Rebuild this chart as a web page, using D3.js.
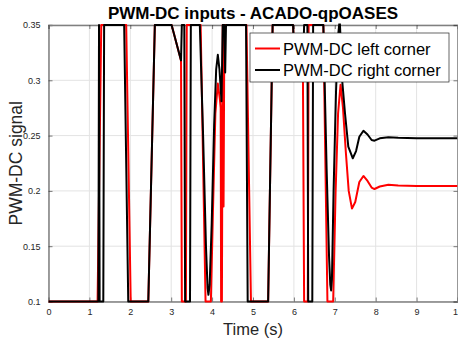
<!DOCTYPE html>
<html>
<head>
<meta charset="utf-8">
<script src="https://cdn.jsdelivr.net/npm/d3@7"></script>
<style>
  body { margin: 0; background: #fff; }
  svg { display: block; font-family: "Liberation Sans", Arial, Helvetica, sans-serif; }
</style>
</head>
<body>
<svg id="chart"></svg>
<script>
// data
const xTicks = [0, 1, 2, 3, 4, 5, 6, 7, 8, 9, 10];
const yTicks = [0.1, 0.15, 0.2, 0.25, 0.3, 0.35];
const seriesNames = ['PWM-DC left corner', 'PWM-DC right corner'];

const leftTime = [0, 1.20, 1.29, 1.90, 2.01, 2.44, 2.60, 3.01, 3.24, 3.26, 3.36, 3.38, 3.72, 3.84, 3.97,
  4.02, 4.08, 4.14, 4.19, 4.21, 4.22, 4.24, 4.26, 4.28, 4.30, 4.84, 4.95, 5.37, 5.48, 5.98, 6.00, 6.22,
  6.25, 6.34, 6.36, 6.72, 6.82, 6.96, 7.02, 7.08, 7.14, 7.20, 7.27, 7.34, 7.42, 7.50, 7.60, 7.70, 7.80,
  7.90, 7.97, 8.10, 8.31, 8.55, 9.00, 10];
const leftValues = [0.1, 0.1, 0.35, 0.35, 0.1, 0.1, 0.35, 0.35, 0.318, 0.1, 0.1, 0.35, 0.35, 0.1, 0.1,
  0.18, 0.27, 0.297, 0.283, 0.275, 0.1, 0.1, 0.35, 0.186, 0.35, 0.35, 0.1, 0.1, 0.35, 0.35, 0.33, 0.31,
  0.1, 0.1, 0.35, 0.35, 0.1, 0.1, 0.2, 0.27, 0.296, 0.275, 0.235, 0.2, 0.184, 0.19, 0.208, 0.2135, 0.209,
  0.203, 0.2017, 0.204, 0.2056, 0.2048, 0.2044, 0.2044];

const rightTime = [0, 1.22, 1.235, 1.25, 1.34, 1.36, 1.85, 1.95, 2.44, 2.60, 3.01, 3.24, 3.26, 3.32, 3.34,
  3.46, 3.48, 3.70, 3.78, 3.85, 3.89, 3.91, 3.94, 3.99, 4.05, 4.10, 4.14, 4.18, 4.23, 4.26, 4.30, 4.32,
  4.34, 4.83, 4.87, 5.37, 5.48, 5.98, 6.00, 6.22, 6.25, 6.33, 6.35, 6.45, 6.47, 6.72, 6.80, 6.86, 6.89,
  6.91, 6.93, 6.97, 7.03, 7.08, 7.12, 7.15, 7.18, 7.25, 7.33, 7.44, 7.52, 7.60, 7.70, 7.80, 7.90, 7.97,
  8.10, 8.31, 8.55, 9.00, 10];
const rightValues = [0.1, 0.1, 0.35, 0.1, 0.1, 0.35, 0.35, 0.1, 0.1, 0.35, 0.35, 0.318, 0.35, 0.35, 0.1,
  0.1, 0.35, 0.35, 0.25, 0.15, 0.112, 0.106, 0.115, 0.17, 0.26, 0.31, 0.323, 0.31, 0.281, 0.35, 0.35, 0.307,
  0.35, 0.35, 0.1, 0.1, 0.35, 0.35, 0.33, 0.31, 0.35, 0.35, 0.1, 0.1, 0.35, 0.35, 0.22, 0.14, 0.115,
  0.11, 0.12, 0.2, 0.29, 0.34, 0.355, 0.33, 0.30, 0.27, 0.24, 0.2295, 0.236, 0.249, 0.2544, 0.251, 0.246, 0.2454,
  0.2475, 0.2485, 0.248, 0.2476, 0.2476];

const width = 458;
const height = 340;
const plotLeft = 48.5, plotRight = 457.5, plotTop = 25, plotBottom = 301.5;
const axisColor = '#262626';

const x = d3.scaleLinear().domain([0, 10]).range([plotLeft, plotRight]);
const y = d3.scaleLinear().domain([0.1, 0.35]).range([plotBottom, plotTop]);

const svg = d3.select('#chart').attr('width', width).attr('height', height);

// grid
svg.append('g').selectAll('line').data(xTicks).enter().append('line')
  .attr('x1', d => x(d)).attr('x2', d => x(d)).attr('y1', plotTop).attr('y2', plotBottom)
  .attr('stroke', '#e3e3e3').attr('stroke-width', 1);
svg.append('g').selectAll('line').data(yTicks).enter().append('line')
  .attr('x1', plotLeft).attr('x2', plotRight).attr('y1', d => y(d)).attr('y2', d => y(d))
  .attr('stroke', '#e3e3e3').attr('stroke-width', 1);

// axes (ticks point inward)
const xAxis = d3.axisBottom(x).tickValues(xTicks).tickSize(-4).tickPadding(7).tickFormat(d3.format('d'));
const yAxis = d3.axisLeft(y).tickValues(yTicks).tickSize(-4).tickPadding(8).tickFormat(d => String(d));
const xAxisTop = d3.axisTop(x).tickValues(xTicks).tickSize(-4).tickFormat('');
const yAxisRight = d3.axisRight(y).tickValues(yTicks).tickSize(-4).tickFormat('');

function styleAxis(g) {
  g.select('.domain').attr('stroke', '#808080').attr('stroke-width', 1.5);
  g.selectAll('.tick line').attr('stroke', axisColor).attr('stroke-width', 0.6);
  g.selectAll('.tick text').attr('fill', axisColor).attr('font-size', 9);
}
svg.append('g').attr('transform', 'translate(0,' + plotBottom + ')').call(xAxis).call(styleAxis);
svg.append('g').attr('transform', 'translate(' + plotLeft + ',0)').call(yAxis).call(styleAxis);
svg.append('g').attr('transform', 'translate(0,' + plotTop + ')').call(xAxisTop).call(styleAxis);
svg.append('g').attr('transform', 'translate(' + plotRight + ',0)').call(yAxisRight).call(styleAxis);

// lines
svg.append('clipPath').attr('id', 'clip').append('rect')
  .attr('x', plotLeft).attr('y', plotTop - 1.5)
  .attr('width', plotRight - plotLeft).attr('height', plotBottom - plotTop + 3);

const line = d3.line().x(d => x(d[0])).y(d => y(d[1]));
const leftData = leftTime.map((t, i) => [t, leftValues[i]]);
const rightData = rightTime.map((t, i) => [t, rightValues[i]]);
const colors = ['#ff0000', '#000000'];

const plot = svg.append('g').attr('clip-path', 'url(#clip)');
[leftData, rightData].forEach((data, i) => {
  plot.append('path').datum(data)
    .attr('d', line)
    .attr('fill', 'none')
    .attr('stroke', colors[i])
    .attr('stroke-width', 2)
    .attr('stroke-linejoin', 'round');
});

// legend
const legend = svg.append('g').attr('transform', 'translate(250,33)');
legend.append('rect').attr('width', 199).attr('height', 49)
  .attr('fill', '#fff').attr('stroke', axisColor).attr('stroke-width', 0.7);
seriesNames.forEach((name, i) => {
  const ly = 15.5 + i * 21.5;
  legend.append('line').attr('x1', 5).attr('x2', 30).attr('y1', ly).attr('y2', ly)
    .attr('stroke', colors[i]).attr('stroke-width', 2);
  legend.append('text').attr('x', 33).attr('y', ly + 6)
    .attr('font-size', 16.5).attr('fill', '#000').text(name);
});

// titles
svg.append('text').attr('x', (plotLeft + plotRight) / 2).attr('y', 18.5)
  .attr('text-anchor', 'middle').attr('font-weight', 'bold').attr('font-size', 17)
  .attr('fill', '#000').text('PWM-DC inputs - ACADO-qpOASES');
svg.append('text').attr('x', (plotLeft + plotRight) / 2).attr('y', 335)
  .attr('text-anchor', 'middle').attr('font-size', 16.5)
  .attr('fill', axisColor).text('Time (s)');
svg.append('text').attr('transform', 'translate(22,' + ((plotTop + plotBottom) / 2) + ') rotate(-90)')
  .attr('text-anchor', 'middle').attr('font-size', 17.5)
  .attr('fill', axisColor).text('PWM-DC signal');
</script>
</body>
</html>
